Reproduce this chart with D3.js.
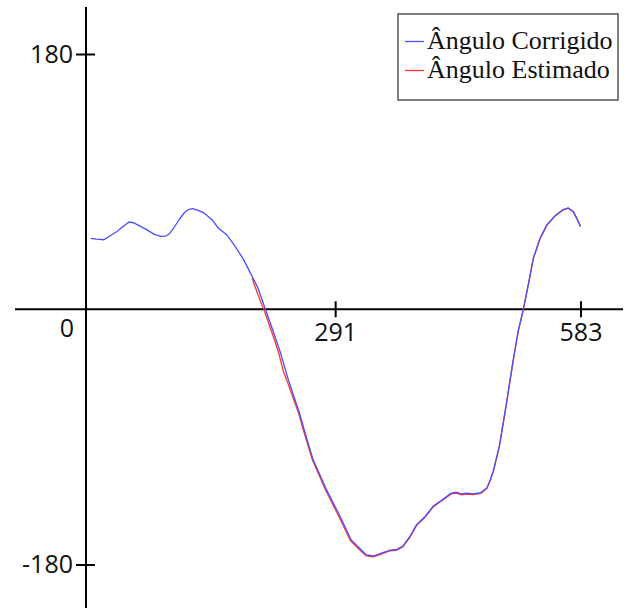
<!DOCTYPE html>
<html>
<head>
<meta charset="utf-8">
<script src="https://cdn.jsdelivr.net/npm/d3@7"></script>
<style>
  body { margin: 0; background: #fff; }
  .tick text { font-family: "Open Sans", sans-serif; font-size: 25px; fill: #111; }
  .legend text { font-family: "Liberation Serif", "Times New Roman", serif; font-size: 26px; fill: #111; }
</style>
</head>
<body>
<div id="chart-container"></div>
<script>
const seriesNames = ["Ângulo Corrigido", "Ângulo Estimado"];
const xTickValues = [291, 583];
const yTickValues = [-180, 180];
const originLabel = "0";
const yAxisFrame = -5.6; // the vertical axis sits a little left of frame 0

// [frame, angle]
const corrigido = [
  [0, 50], [6.5, 49.5], [15.6, 49], [23.6, 52], [31.7, 55], [38.8, 58.5], [45.8, 61.5],
  [50.9, 61], [55.9, 59.5], [67, 56], [75.1, 53], [83.2, 51.4], [89.2, 51.5], [93.2, 53],
  [97.3, 56], [101.3, 59.6], [106.3, 64], [111.4, 68], [116.4, 70.3], [121.5, 71],
  [128.5, 69.5], [134.6, 68], [144.7, 63], [151.7, 57.3], [161.8, 52.6], [171.9, 44.3],
  [182, 35], [191.1, 24.4], [199.1, 15], [208.2, -0.4], [217.3, -15.7], [225.4, -29.8],
  [235.4, -50], [248.6, -73.5], [254.6, -86], [264.7, -106], [280.8, -127.4], [297, -146.3],
  [310.1, -162.7], [322.2, -169.8], [328.2, -173.3], [336.3, -174], [344.4, -172.4],
  [356.5, -169.8], [364.5, -169.3], [371.6, -167], [379.7, -160.4], [387.7, -152.1],
  [397.8, -146.3], [407.9, -138.7], [418, -134.5], [429.1, -129.7], [435.1, -129],
  [441.2, -130.2], [447.2, -129.7], [455.3, -130.2], [464.4, -129.3], [471.5, -126],
  [475.5, -120.4], [479.5, -113.5], [486.6, -96], [494.6, -67.4], [502.7, -36.8],
  [508.8, -15.6], [514.8, -0.4], [520.9, 17.3], [526.9, 36], [535, 50.3], [543.1, 59.6],
  [553.1, 66.2], [562.2, 70.2], [568.3, 71.4], [574.3, 69], [579.4, 63.2], [583, 58.4]
];

const estimado = [
  [192.1, 22], [199.1, 10.2], [206.2, -0.4], [215.3, -15.7], [223.3, -29.8], [229.4, -43.9],
  [233.4, -50], [247.6, -73.5], [253.6, -86], [263.7, -106], [279.8, -127.8], [296, -146.8],
  [309.1, -163.2], [321.2, -170.3], [328.2, -174], [336.3, -174.6], [344.4, -173],
  [356.5, -170.3], [364.5, -169.8], [371.6, -167.5], [379.7, -161], [387.7, -152.6],
  [397.8, -146.8], [407.9, -139.2], [418, -135], [429.1, -130.2], [435.1, -129.6],
  [441.2, -130.8], [447.2, -130.3], [455.3, -130.7], [464.4, -129.8], [471.5, -126.5],
  [475.5, -121], [479.5, -114], [486.6, -96.2], [494.6, -67.4], [502.7, -36.8],
  [508.8, -15.6], [514.8, -0.4], [520.9, 17.3], [526.9, 36], [535, 50], [543.1, 59.3],
  [553.1, 66], [562.2, 70], [568.3, 71.2], [574.3, 68.8], [579.4, 63], [583, 58.2]
];

const width = 626;
const height = 608;

const xScale = d3.scaleLinear().domain([0, 583]).range([90.7, 580.5]);
const yScale = d3.scaleLinear().domain([-180, 180]).range([564.5, 54]);
const axisX = xScale(yAxisFrame);

const svg = d3
  .select("#chart-container")
  .append("svg")
  .attr("id", "chart")
  .attr("width", width)
  .attr("height", height);

// axis lines run past the data range
svg
  .append("line")
  .attr("x1", 15)
  .attr("x2", 623)
  .attr("y1", yScale(0))
  .attr("y2", yScale(0))
  .attr("stroke", "#000")
  .attr("stroke-width", 2);

svg
  .append("line")
  .attr("x1", axisX)
  .attr("x2", axisX)
  .attr("y1", 7)
  .attr("y2", height)
  .attr("stroke", "#000")
  .attr("stroke-width", 2);

const xAxis = d3
  .axisBottom(xScale)
  .tickValues(xTickValues)
  .tickSize(8)
  .tickPadding(6)
  .tickFormat(d => String(d));

const yAxis = d3
  .axisLeft(yScale)
  .tickValues(yTickValues)
  .tickSize(10)
  .tickPadding(3)
  .tickFormat(d => String(d));

const gx = svg
  .append("g")
  .attr("transform", `translate(0, ${yScale(0)})`)
  .call(xAxis);
gx.select(".domain").remove();
gx.selectAll(".tick line").attr("y1", -8).attr("y2", 8).attr("stroke", "#000").attr("stroke-width", 2);

const gy = svg
  .append("g")
  .attr("transform", `translate(${axisX}, 0)`)
  .call(yAxis);
gy.select(".domain").remove();
gy.selectAll(".tick line").attr("x1", -10).attr("x2", 9).attr("stroke", "#000").attr("stroke-width", 2);

// origin label, left of the vertical axis
svg
  .append("g")
  .attr("class", "tick")
  .append("text")
  .text(originLabel)
  .attr("x", axisX - 19)
  .attr("y", yScale(0) + 9.5)
  .attr("dy", "0.71em")
  .attr("text-anchor", "middle");

const line = d3
  .line()
  .x(d => xScale(d[0]))
  .y(d => yScale(d[1]));

const colors = ["#4d4dff", "#ff3333"];

svg
  .append("path")
  .datum(estimado)
  .attr("d", line)
  .attr("fill", "none")
  .attr("stroke", colors[1])
  .attr("stroke-width", 1.3);

svg
  .append("path")
  .datum(corrigido)
  .attr("d", line)
  .attr("fill", "none")
  .attr("stroke", colors[0])
  .attr("stroke-width", 1.3);

// legend
const legend = svg.append("g").attr("class", "legend");

legend
  .append("rect")
  .attr("x", 398)
  .attr("y", 14)
  .attr("width", 220)
  .attr("height", 86)
  .attr("fill", "#fff")
  .attr("stroke", "#555")
  .attr("stroke-width", 1.5);

seriesNames.forEach((name, i) => {
  const rowY = 41.5 + i * 29;
  legend
    .append("line")
    .attr("x1", 405)
    .attr("x2", 424)
    .attr("y1", rowY)
    .attr("y2", rowY)
    .attr("stroke", colors[i])
    .attr("stroke-width", 1.3);
  legend
    .append("text")
    .text(name)
    .attr("x", 427)
    .attr("y", rowY + 7);
});
</script>
</body>
</html>
